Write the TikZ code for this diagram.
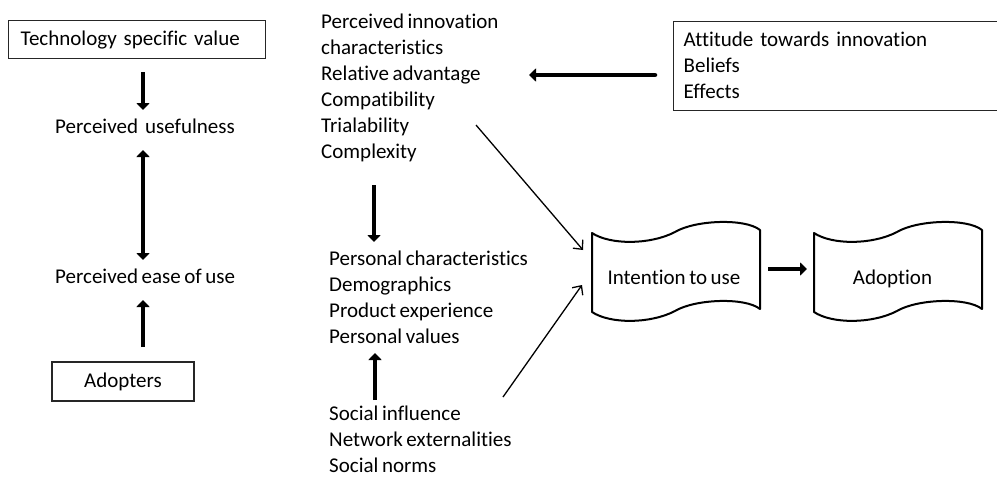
\documentclass[tikz,border=0pt]{standalone}
\usepackage{fontspec}
\setmainfont[RawFeature={-liga}]{Carlito}
\usetikzlibrary{arrows.meta}
\newcommand\diagfont{\fontsize{21pt}{26pt}\selectfont\spaceskip=0.17em\relax}
\tikzset{
  txt/.style={inner sep=0pt, anchor=base west, align=left, font=\diagfont},
  box/.style={draw=black!85, line width=1.3pt, inner sep=0pt, font=\diagfont},
  fat/.style={line width=4.5pt, -{Triangle[length=7pt,width=13pt]}},
  fatboth/.style={line width=4.5pt, {Triangle[length=7pt,width=13pt]}-{Triangle[length=7pt,width=13pt]}},
  thin/.style={line width=1.3pt, -{Straight Barb[length=7pt,width=13pt,line width=1.3pt]}},
  tapeline/.style={draw=black, line width=2pt, line join=round},
}
\newcommand\tapepath{(0,10) .. controls (18,22) and (58,22) .. (83,9) .. controls (103,-3) and (153,-5) .. (168,7) -- (168,86) .. controls (153,74) and (103,76) .. (83,88) .. controls (58,101) and (18,101) .. (0,89) -- cycle}
\begin{document}
\begin{tikzpicture}[x=1pt,y=-1pt]
\useasboundingbox (0,0) rectangle (997,477);
% left column
\node[box, anchor=north west, minimum width=257pt, minimum height=38pt, text width=233pt, inner xsep=12pt, align=left] (tech) at (8,20) {Technology specific value};
\node[txt] (useful) at (55,133) {Perceived\ \ usefulness};
\node[txt] (ease) at (55,283) {Perceived ease of use};
\node[box, minimum width=142pt, minimum height=39pt] (adopt) at (123,381.5) {Adopters};
% middle column (base anchor = last line)
\node[txt] (pic) at (321,158) {Perceived innovation\\characteristics\\Relative advantage\\Compatibility\\Trialability\\Complexity};
\node[txt] (pers) at (329,343) {Personal characteristics\\Demographics\\Product experience\\Personal values};
\node[txt] (soc) at (329,472.5) {Social influence\\Network externalities\\Social norms};
% attitude box (right edge runs past the picture)
\node[box, anchor=north west, minimum width=340pt, minimum height=89pt, text width=320pt, inner xsep=10pt, align=left] (att) at (673,20.5) {Attitude towards innovation\\Beliefs\\Effects};
% tapes
\begin{scope}[shift={(592,223)}]
\draw[tapeline] \tapepath;
\end{scope}
\begin{scope}[shift={(814,223)}]
\draw[tapeline] \tapepath;
\end{scope}
\node[inner sep=0pt, anchor=base, font=\diagfont] (intent) at (674,284) {Intention to use};
\node[inner sep=0pt, anchor=base, font=\diagfont] (adoption) at (892.5,284) {Adoption};
% arrow end points
\coordinate (a1s) at (143,72);  \coordinate (a1e) at (143,110);
\coordinate (a2s) at (143,150); \coordinate (a2e) at (143,260);
\coordinate (a3s) at (143,347); \coordinate (a3e) at (143,300);
\coordinate (a4s) at (374,185); \coordinate (a4e) at (374,242);
\coordinate (a5s) at (375,400); \coordinate (a5e) at (375,353);
\coordinate (a6s) at (655,75);  \coordinate (a6e) at (529,75);
\coordinate (a7s) at (768,269); \coordinate (a7e) at (807,269);
\coordinate (a8s) at (476,125); \coordinate (a8e) at (583,250);
\coordinate (a9s) at (503,397); \coordinate (a9e) at (582,285);
% connectors
\draw[fat] (a1s) -- (a1e);
\draw[fatboth] (a2s) -- (a2e);
\draw[fat] (a3s) -- (a3e);
\draw[fat] (a4s) -- (a4e);
\draw[fat] (a5s) -- (a5e);
\draw[fat, line cap=round] (a6s) -- (a6e);
\draw[fat] (a7s) -- (a7e);
\draw[thin] (a8s) -- (a8e);
\draw[thin] (a9s) -- (a9e);
\end{tikzpicture}
\end{document}
